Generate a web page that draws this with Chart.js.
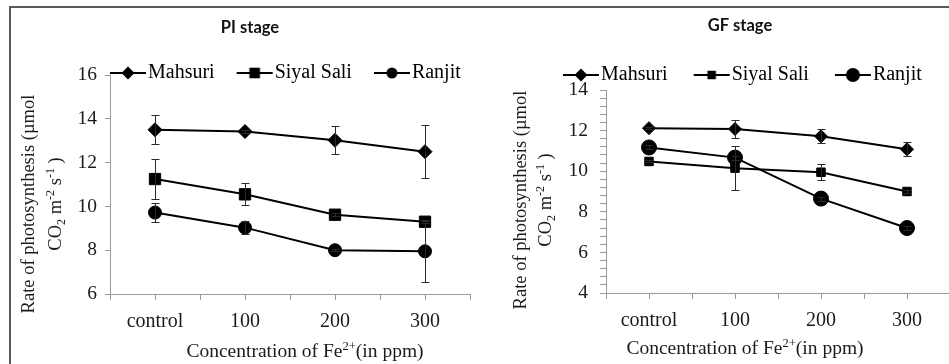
<!DOCTYPE html>
<html>
<head>
<meta charset="utf-8">
<script src="https://cdn.jsdelivr.net/npm/chart.js@4.4.1/dist/chart.umd.min.js"></script>
<style>
  html, body { margin: 0; padding: 0; background: #fff; width: 949px; height: 364px; overflow: hidden; }
  #frame { position: absolute; left: 9px; top: 6px; width: 980px; height: 400px; border-top: 2px solid #5a5a5a; border-left: 2px solid #5a5a5a; }
  canvas { position: absolute; top: 0; }
</style>
</head>
<body>
<div id="frame"></div>
<canvas id="piChart" width="480" height="364" style="left:0"></canvas>
<canvas id="gfChart" width="480" height="364" style="left:480px"></canvas>
<script>
const categories = ["control", "100", "200", "300"];
const seriesNames = ["Mahsuri", "Siyal Sali", "Ranjit"];

// PI stage
const piMahsuri = [13.5, 13.42, 13.02, 12.5];
const piSiyalSali = [11.25, 10.55, 9.62, 9.3];
const piRanjit = [9.72, 9.03, 8.0, 7.95];
const piMahsuriErr = [0.67, 0.08, 0.65, 1.2];
const piSiyalSaliErr = [0.9, 0.5, 0.08, 0.08];
const piRanjitErr = [0.45, 0.3, 0.05, 1.4];

// GF stage
const gfMahsuri = [12.12, 12.08, 11.72, 11.08];
const gfSiyalSali = [10.48, 10.15, 9.95, 9.0];
const gfRanjit = [11.17, 10.67, 8.65, 7.2];
const gfMahsuriErr = [0.05, 0.42, 0.35, 0.35];
const gfSiyalSaliErr = [0.05, 1.1, 0.4, 0.05];
const gfRanjitErr = [0.1, 0.1, 0.1, 0.1];

const SERIF = "'Liberation Serif', 'Times New Roman', serif";
Chart.defaults.font.family = SERIF;
Chart.defaults.color = "#1a1a1a";

function drawMarker(g, style, r, x, y) {
    g.beginPath();
    if (style === "rectRot") {
        g.moveTo(x - r, y); g.lineTo(x, y - r); g.lineTo(x + r, y); g.lineTo(x, y + r); g.closePath();
    } else if (style === "rect") {
        const s = r * Math.SQRT1_2;
        g.rect(x - s, y - s, 2 * s, 2 * s);
    } else {
        g.arc(x, y, r, 0, 2 * Math.PI);
    }
    g.fill();
}

// little "line with marker" picture for the legend
function legendIcon(style, r, boxW) {
    const c = document.createElement("canvas");
    c.width = 120; c.height = 24;
    const g = c.getContext("2d");
    const x0 = boxW / 2 + 32;
    g.strokeStyle = "#000"; g.fillStyle = "#000"; g.lineWidth = 2;
    g.beginPath(); g.moveTo(x0, 12); g.lineTo(x0 + 36, 12); g.stroke();
    drawMarker(g, style, r, x0 + 18, 12);
    return c;
}

function drawRich(ctx, parts, cx, cy, size, rotate) {
    const small = size * 0.65;
    ctx.save();
    ctx.translate(cx, cy);
    if (rotate) ctx.rotate(-Math.PI / 2);
    ctx.textAlign = "left";
    ctx.textBaseline = "alphabetic";
    ctx.fillStyle = "#1a1a1a";
    let total = 0;
    parts.forEach(p => { ctx.font = (p[1] ? small : size) + "px " + SERIF; total += ctx.measureText(p[0]).width; });
    let x = -total / 2;
    parts.forEach(p => {
        ctx.font = (p[1] ? small : size) + "px " + SERIF;
        const dy = p[1] === "sup" ? -size * 0.38 : p[1] === "sub" ? size * 0.2 : 0;
        ctx.fillText(p[0], x, size * 0.33 + dy);
        x += ctx.measureText(p[0]).width;
    });
    ctx.restore();
}

const errorBars = {
    id: "errorBars",
    afterDatasetsDraw(chart) {
        const { ctx, scales: { x, y } } = chart;
        ctx.save();
        ctx.strokeStyle = "#2a2a2a";
        ctx.lineWidth = 1;
        chart.data.datasets.forEach(ds => {
            ds.errors.forEach((e, i) => {
                const px = Math.round(x.getPixelForValue(i)) + 0.5;
                const top = Math.round(y.getPixelForValue(ds.data[i].y + e)) + 0.5;
                const bot = Math.round(y.getPixelForValue(ds.data[i].y - e)) + 0.5;
                ctx.beginPath();
                ctx.moveTo(px, top); ctx.lineTo(px, bot);
                ctx.moveTo(px - 4, top); ctx.lineTo(px + 4, top);
                ctx.moveTo(px - 4, bot); ctx.lineTo(px + 4, bot);
                ctx.stroke();
            });
        });
        ctx.restore();
    }
};

function buildChart(id, cfg) {
    const styles = ["rectRot", "rect", "circle"];
    const values = cfg.values, errors = cfg.errors;

    // titles and axis titles
    const panelText = {
        id: "panelText",
        afterDraw(chart) {
            const ctx = chart.ctx;
            ctx.save();
            ctx.font = "bold 16.5px Lato, 'Open Sans', sans-serif";
            ctx.fillStyle = "#111";
            ctx.textAlign = "center";
            ctx.textBaseline = "middle";
            ctx.fillText(cfg.title, cfg.titlePos[0], cfg.titlePos[1]);
            ctx.restore();
            drawRich(ctx, [["Rate of photosynthesis (µmol", ""]], cfg.yTitleX[0], cfg.yTitleY, 18.5, true);
            drawRich(ctx, [["CO", ""], ["2", "sub"], [" m", ""], ["-2", "sup"], [" s", ""], ["-1", "sup"], [" )", ""]],
                cfg.yTitleX[1], cfg.yTitleY, 18.5, true);
            drawRich(ctx, [["Concentration of Fe", ""], ["2+", "sup"], ["(in ppm)", ""]], cfg.xTitlePos[0], cfg.xTitlePos[1], 19.5, false);
        }
    };

    // legend sits over the top of the plot: it takes less room in the layout than it draws
    const legendOverlap = {
        id: "legendOverlap",
        afterInit(chart) {
            const lg = chart.legend, fit = lg.fit;
            lg.fit = function () { fit.call(this); this.height = cfg.legendHeight; };
        },
        afterLayout(chart) {
            const lg = chart.legend;
            lg.left += cfg.legendShift;
            lg.right += cfg.legendShift;
            lg.height = 40;
            lg.bottom = lg.top + 40;
        }
    };

    return new Chart(document.getElementById(id), {
        type: "line",
        data: {
            datasets: seriesNames.map((name, k) => ({
                label: name,
                data: values[k].map((v, i) => ({ x: i, y: v })),
                errors: errors[k],
                borderColor: "#000",
                backgroundColor: "#000",
                borderWidth: 2,
                pointStyle: styles[k],
                pointRadius: cfg.radius[k],
                pointBorderWidth: 1,
                legendIcon: legendIcon(styles[k], cfg.legendRadius[k], cfg.boxW)
            }))
        },
        options: {
            responsive: false,
            animation: false,
            events: [],
            layout: { padding: { left: cfg.padLeft, right: 5, top: cfg.padTop, bottom: 0 } },
            plugins: {
                tooltip: { enabled: false },
                legend: {
                    position: "top",
                    align: "start",
                    labels: {
                        usePointStyle: true,
                        pointStyleWidth: cfg.boxW,
                        padding: 0,
                        color: "#1a1a1a",
                        font: { size: 20, family: SERIF },
                        generateLabels: chart => chart.data.datasets.map((ds, i) => ({
                            text: ds.label,
                            pointStyle: ds.legendIcon,
                            fillStyle: "#000",
                            strokeStyle: "#000",
                            lineWidth: 0,
                            hidden: false,
                            datasetIndex: i
                        }))
                    }
                }
            },
            scales: {
                x: {
                    type: "linear",
                    min: -0.5,
                    max: 3.5,
                    afterFit: s => { s.height = cfg.xHeight; },
                    border: { color: "#9a9a9a", width: 1 },
                    grid: { drawOnChartArea: false, tickLength: 6, color: "#9a9a9a" },
                    ticks: {
                        stepSize: 0.5,
                        autoSkip: false,
                        maxRotation: 0,
                        padding: 10,
                        font: { size: 20 },
                        callback: v => Number.isInteger(v) ? categories[v] : ""
                    }
                },
                y: {
                    min: cfg.yMin,
                    max: cfg.yMax,
                    afterFit: s => { s.width = cfg.yWidth; },
                    border: { color: "#9a9a9a", width: 1 },
                    grid: { drawOnChartArea: false, tickLength: cfg.yTickLen, color: "#9a9a9a" },
                    ticks: {
                        stepSize: cfg.yStep,
                        autoSkip: false,
                        padding: cfg.yTickPad,
                        font: { size: 19.5 },
                        callback: v => Math.abs(v / 2 - Math.round(v / 2)) < 1e-6 ? Math.round(v) : ""
                    }
                }
            }
        },
        plugins: [errorBars, panelText, legendOverlap]
    });
}

buildChart("piChart", {
    values: [piMahsuri, piSiyalSali, piRanjit],
    errors: [piMahsuriErr, piSiyalSaliErr, piRanjitErr],
    title: "PI stage", titlePos: [250, 28],
    yTitleX: [28, 55], yTitleY: 204,
    xTitlePos: [305, 351],
    radius: [7, 8, 6.5],
    legendRadius: [6.5, 7.5, 5.5],
    boxW: 50,
    padLeft: 66, padTop: 63, legendHeight: 12, legendShift: 22,
    yWidth: 44, xHeight: 70,
    yMin: 6, yMax: 16, yStep: 2, yTickLen: 5, yTickPad: 8
});

buildChart("gfChart", {
    values: [gfMahsuri, gfSiyalSali, gfRanjit],
    errors: [gfMahsuriErr, gfSiyalSaliErr, gfRanjitErr],
    title: "GF stage", titlePos: [260, 26],
    yTitleX: [40, 65], yTitleY: 200,
    xTitlePos: [265, 348],
    radius: [6.5, 6, 7.5],
    legendRadius: [6.5, 6, 7],
    boxW: 54,
    padLeft: 57, padTop: 65, legendHeight: 25, legendShift: 0,
    yWidth: 69, xHeight: 71,
    yMin: 4, yMax: 14, yStep: 0.4, yTickLen: 6, yTickPad: 12
});
</script>
</body>
</html>
